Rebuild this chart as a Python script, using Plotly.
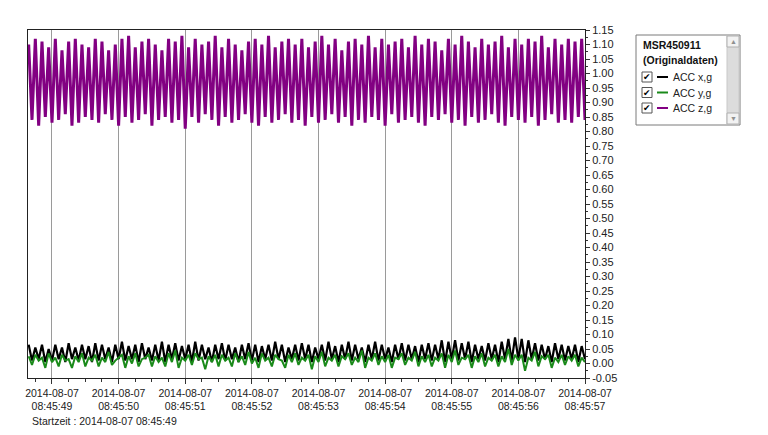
import pandas as pd
import plotly.graph_objects as go

# ---------------- data ----------------
start_time = "2014-08-07 08:45:48.650"
sample_ms = 50
series_names = ["ACC x,g", "ACC y,g", "ACC z,g"]
series_colors = ["#000000", "#1a8a1a", "#820082"]

acc_z = [
    1.10, 0.84, 1.12, 0.82, 1.11, 0.85, 1.09, 0.83, 1.12, 0.84, 1.08, 0.86, 1.11, 0.82, 1.12, 0.83, 1.10, 0.85, 1.09, 0.84,
    1.12, 0.83, 1.11, 0.86, 1.08, 0.84, 1.10, 0.82, 1.12, 0.85, 1.13, 0.83, 1.09, 0.84, 1.11, 0.86, 1.12, 0.82, 1.10, 0.84,
    1.08, 0.85, 1.12, 0.83, 1.11, 0.84, 1.13, 0.81, 1.09, 0.85, 1.12, 0.83, 1.10, 0.86, 1.11, 0.84, 1.13, 0.82, 1.09, 0.85,
    1.12, 0.83, 1.10, 0.84, 1.08, 0.86, 1.11, 0.83, 1.12, 0.82, 1.10, 0.85, 1.13, 0.83, 1.09, 0.84, 1.11, 0.86, 1.12, 0.83,
    1.10, 0.84, 1.12, 0.82, 1.09, 0.85, 1.11, 0.83, 1.13, 0.84, 1.10, 0.86, 1.12, 0.83, 1.08, 0.85, 1.11, 0.82, 1.12, 0.84,
    1.10, 0.83, 1.13, 0.85, 1.09, 0.84, 1.12, 0.82, 1.10, 0.86, 1.11, 0.83, 1.12, 0.84, 1.09, 0.85, 1.13, 0.83, 1.10, 0.82,
    1.12, 0.85, 1.11, 0.84, 1.08, 0.86, 1.12, 0.83, 1.10, 0.84, 1.13, 0.82, 1.11, 0.85, 1.09, 0.83, 1.12, 0.84, 1.10, 0.86,
    1.11, 0.83, 1.13, 0.82, 1.09, 0.85, 1.12, 0.84, 1.10, 0.83, 1.12, 0.85, 1.11, 0.82, 1.13, 0.84, 1.09, 0.86, 1.12, 0.83,
    1.10, 0.84, 1.12, 0.83, 1.11, 0.85, 1.12, 0.84,
]

acc_x = [
    0.065, 0.010, 0.055, 0.015, 0.065, 0.005, 0.050, 0.010, 0.065, 0.015, 0.055, 0.005, 0.070, 0.015, 0.055, 0.010, 0.065, 0.015, 0.060, 0.005,
    0.070, 0.010, 0.065, 0.015, 0.055, 0.005, 0.065, 0.015, 0.075, 0.010, 0.060, 0.015, 0.065, 0.005, 0.070, 0.015, 0.055, 0.010, 0.065, 0.010,
    0.075, 0.005, 0.065, 0.015, 0.070, 0.010, 0.060, 0.015, 0.065, 0.005, 0.075, 0.010, 0.065, 0.015, 0.055, 0.005, 0.065, 0.015, 0.070, 0.010,
    0.065, 0.015, 0.055, 0.005, 0.065, 0.015, 0.070, 0.010, 0.065, 0.005, 0.060, 0.015, 0.065, 0.010, 0.075, 0.015, 0.065, 0.005, 0.055, 0.015,
    0.065, 0.010, 0.070, 0.015, 0.065, 0.005, 0.055, 0.015, 0.065, 0.010, 0.075, 0.015, 0.060, 0.005, 0.065, 0.015, 0.075, 0.010, 0.065, 0.015,
    0.055, 0.005, 0.065, 0.015, 0.075, 0.010, 0.065, 0.015, 0.055, 0.005, 0.065, 0.015, 0.070, 0.010, 0.065, 0.015, 0.060, 0.005, 0.065, 0.015,
    0.070, 0.010, 0.065, 0.015, 0.080, 0.005, 0.075, 0.015, 0.080, 0.010, 0.070, 0.015, 0.075, 0.005, 0.065, 0.015, 0.060, 0.010, 0.070, 0.015,
    0.065, 0.005, 0.075, 0.015, 0.085, 0.010, 0.090, 0.015, 0.085, 0.005, 0.080, 0.015, 0.070, 0.010, 0.065, 0.015, 0.060, 0.005, 0.070, 0.015,
    0.065, 0.010, 0.060, 0.015, 0.065, 0.005, 0.060, 0.015,
]

acc_y = [
    0.025, -0.005, 0.030, 0.010, 0.020, -0.015, 0.035, 0.005, 0.020, -0.010, 0.030, 0.010, 0.015, -0.015, 0.025, 0.005, 0.035, -0.010, 0.020, 0.010,
    0.030, -0.010, 0.020, 0.005, 0.040, -0.005, 0.010, 0.020, 0.030, -0.015, 0.025, 0.000, 0.035, -0.010, 0.015, 0.020, 0.030, -0.010, 0.025, 0.005,
    0.020, -0.010, 0.035, 0.005, 0.045, -0.015, 0.020, 0.010, 0.030, -0.005, 0.035, 0.015, 0.020, -0.020, 0.025, 0.005, 0.030, -0.010, 0.030, 0.010,
    0.020, -0.010, 0.035, 0.005, 0.025, -0.005, 0.040, 0.000, 0.020, -0.015, 0.035, 0.010, 0.020, -0.010, 0.030, 0.015, 0.010, -0.015, 0.030, 0.005,
    0.035, -0.005, 0.020, 0.010, 0.030, -0.020, 0.025, 0.005, 0.040, -0.010, 0.020, 0.010, 0.030, -0.010, 0.025, 0.015, 0.035, -0.005, 0.020, 0.005,
    0.045, -0.015, 0.020, 0.010, 0.035, -0.005, 0.025, 0.005, 0.030, -0.015, 0.020, 0.015, 0.035, -0.005, 0.020, 0.010, 0.040, -0.010, 0.025, 0.005,
    0.030, -0.010, 0.020, 0.010, 0.035, -0.015, 0.030, 0.005, 0.045, -0.005, 0.020, 0.015, 0.030, -0.015, 0.025, 0.005, 0.035, -0.010, 0.020, 0.010,
    0.030, -0.010, 0.025, 0.005, 0.050, -0.005, 0.030, 0.010, 0.030, -0.025, 0.020, 0.010, 0.040, -0.010, 0.025, 0.015, 0.030, -0.015, 0.020, 0.005,
    0.030, -0.005, 0.025, 0.010, 0.030, -0.010, 0.020, 0.005,
]

y_tick_values = [round(-0.05 + 0.05 * i, 2) for i in range(25)]
y_tick_labels = ["%.2f" % v for v in y_tick_values]
x_range = ["2014-08-07 08:45:48.64", "2014-08-07 08:45:57.00"]
start_label = "Startzeit : 2014-08-07 08:45:49"
legend_title = ["MSR450911", "(Originaldaten)"]

times = pd.date_range(start=start_time, periods=len(acc_z), freq=f"{sample_ms}ms")

# ---------------- figure ----------------
OFF = 8  # page body margin
W, H = 768 - OFF, 435 - OFF
L, R, T, B = 28 - OFF, 585 - OFF, 30 - OFF, 378 - OFF

def pxx(x):  # screen px -> paper
    return (x - OFF - L) / (R - L)

def pxy(y):
    return (B - (y - OFF)) / (B - T)

fig = go.Figure()
for name, vals, col, w in zip(series_names, [acc_x, acc_y, acc_z], series_colors, [2.2, 2.0, 3.0]):
    fig.add_trace(go.Scatter(x=times, y=vals, mode="lines", name=name,
                             line=dict(color=col, width=w), showlegend=False))

font_family = "Liberation Sans, Arial, sans-serif"
fig.update_layout(
    width=W, height=H,
    margin=dict(l=L, r=W - R, t=T, b=H - B, autoexpand=False),
    paper_bgcolor="white", plot_bgcolor="white",
    font=dict(family=font_family, size=11, color="#222222"),
    xaxis=dict(
        type="date", range=x_range, automargin=False,
        tick0="2014-08-07 08:45:49", dtick=1000,
        tickformat="%Y-%m-%d<br>%H:%M:%S",
        ticks="outside", ticklen=5, tickcolor="#333",
        showgrid=True, gridcolor="#9a9a9a", gridwidth=1,
        showline=True, linecolor="#222", linewidth=1, mirror=True,
        tickfont=dict(size=10.5, color="#222"),
        minor=dict(dtick=250, ticks="outside", ticklen=3, tickcolor="#333", showgrid=False),
        zeroline=False,
    ),
    yaxis=dict(
        side="right", range=[-0.05, 1.15], automargin=False,
        tickvals=y_tick_values, ticktext=y_tick_labels,
        ticks="outside", ticklen=4, tickcolor="#333",
        showgrid=False, zeroline=False,
        showline=True, linecolor="#222", linewidth=1, mirror=True,
        tickfont=dict(size=11, color="#222"),
        minor=dict(dtick=0.025, ticks="outside", ticklen=2, tickcolor="#333"),
    ),
)

# ---------------- custom legend box ----------------
shapes = []
annos = []
lx0, lx1, ly0, ly1 = 636, 740, 35, 125
shapes.append(dict(type="rect", xref="paper", yref="paper", x0=pxx(lx0), x1=pxx(lx1), y0=pxy(ly1), y1=pxy(ly0),
                   line=dict(color="#7a7a7a", width=1), fillcolor="white", layer="above"))
sx0, sx1 = 727, 739
shapes.append(dict(type="rect", xref="paper", yref="paper", x0=pxx(sx0), x1=pxx(sx1), y0=pxy(124), y1=pxy(36),
                   line=dict(color="#c8c8c8", width=1), fillcolor="#dcdcdc", layer="above"))
shapes.append(dict(type="rect", xref="paper", yref="paper", x0=pxx(sx0), x1=pxx(sx1), y0=pxy(47), y1=pxy(36),
                   line=dict(color="#b0b0b0", width=1), fillcolor="#f2f2f2", layer="above"))
shapes.append(dict(type="rect", xref="paper", yref="paper", x0=pxx(sx0), x1=pxx(sx1), y0=pxy(124), y1=pxy(113),
                   line=dict(color="#b0b0b0", width=1), fillcolor="#f2f2f2", layer="above"))
annos.append(dict(xref="paper", yref="paper", x=pxx(733), y=pxy(41.5), text="▲", showarrow=False,
                  font=dict(size=7, color="#909090"), xanchor="center", yanchor="middle"))
annos.append(dict(xref="paper", yref="paper", x=pxx(733), y=pxy(118.5), text="▼", showarrow=False,
                  font=dict(size=7, color="#909090"), xanchor="center", yanchor="middle"))
for i, t in enumerate(legend_title):
    annos.append(dict(xref="paper", yref="paper", x=pxx(641), y=pxy(45 + 15 * i), text=f"<b>{t}</b>",
                      showarrow=False, xanchor="left", yanchor="middle",
                      font=dict(size=10.5, color="#111", family=font_family)))
for i, (name, col) in enumerate(zip(series_names, series_colors)):
    yy = 77 + 15.5 * i
    shapes.append(dict(type="rect", xref="paper", yref="paper", x0=pxx(642), x1=pxx(652), y0=pxy(yy + 5), y1=pxy(yy - 5),
                       line=dict(color="#555", width=1), fillcolor="white", layer="above"))
    annos.append(dict(xref="paper", yref="paper", x=pxx(647), y=pxy(yy), text="✔", showarrow=False,
                      xanchor="center", yanchor="middle", font=dict(size=9, color="#000", family="DejaVu Sans")))
    shapes.append(dict(type="line", xref="paper", yref="paper", x0=pxx(657), x1=pxx(668), y0=pxy(yy), y1=pxy(yy),
                       line=dict(color=col, width=2), layer="above"))
    annos.append(dict(xref="paper", yref="paper", x=pxx(671), y=pxy(yy), text=name, showarrow=False,
                      xanchor="left", yanchor="middle", font=dict(size=10.5, color="#222")))

annos.append(dict(xref="paper", yref="paper", x=pxx(30), y=pxy(421), text=start_label, showarrow=False,
                  xanchor="left", yanchor="middle", font=dict(size=10.5, color="#222")))

fig.update_layout(shapes=shapes, annotations=annos)
fig.write_html("out.html")
